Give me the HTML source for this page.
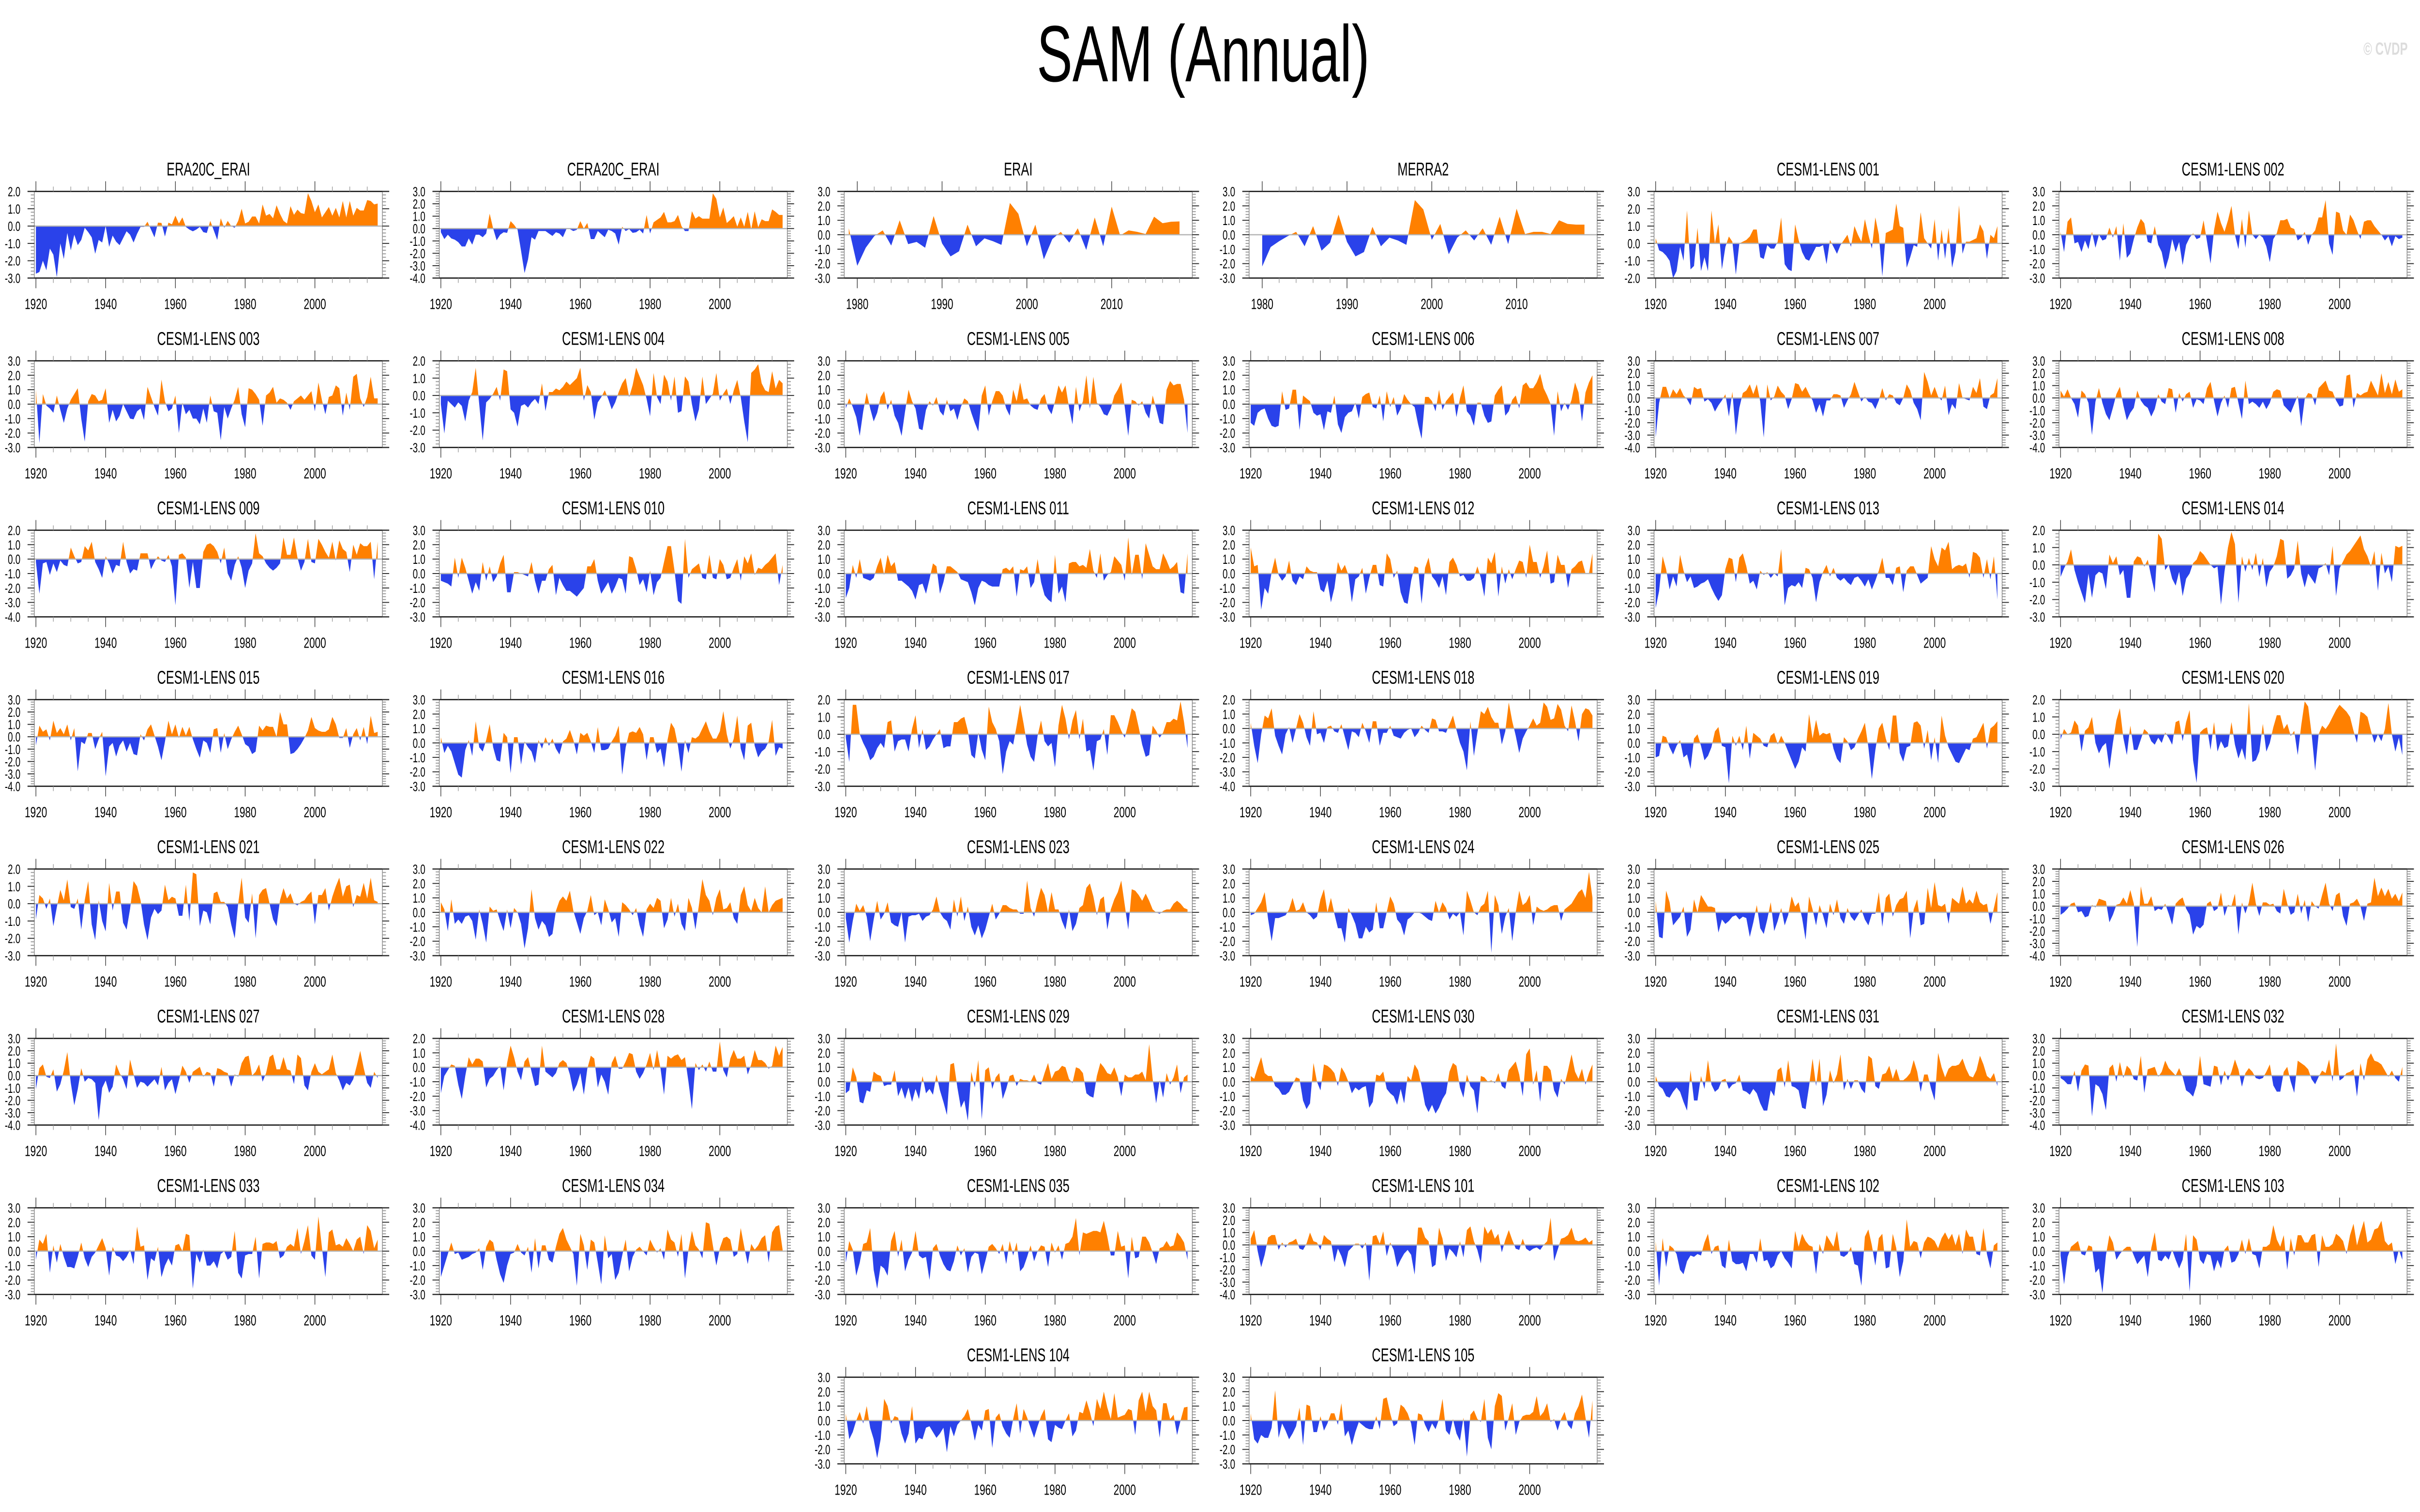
<!DOCTYPE html>
<html>
<head>
<meta charset="utf-8">
<style>
html,body{margin:0;padding:0;background:#fff;width:100%;height:100%;overflow:hidden;}
svg{display:block;position:fixed;left:0;top:0;width:100vw;height:100vh;}
text{font-family:"Liberation Sans",sans-serif;}
</style>
</head>
<body>
<svg id="chart" viewBox="0 0 7468 3124" preserveAspectRatio="none" xmlns="http://www.w3.org/2000/svg">
<rect x="0" y="0" width="7468" height="3124" fill="#fff"/>
<text x="3713" y="168" font-size="165" text-anchor="middle" fill="#000">SAM (Annual)</text>
<text x="7430" y="113" font-size="36" font-weight="bold" text-anchor="end" fill="#dcdcdc">© CVDP</text>
<g id="panels"></g>
</svg>
<script>
// ---- data (annual SAM index, one value per year) ----
const era20c = [-2.75,-2.65,-2.0,-2.55,-1.3,-1.65,-2.95,-1.0,-1.9,-0.4,
-1.4,-0.5,-1.1,-0.8,-0.1,-0.35,-0.65,-1.6,-0.8,-0.95,
0.0,-1.2,-0.55,-0.9,-1.1,-0.7,-0.3,-0.5,-0.95,-0.45,
-0.05,-0.05,0.25,-0.2,-0.65,0.2,0.18,-0.6,0.2,0.1,
0.6,0.15,0.5,-0.05,-0.2,-0.3,-0.2,-0.05,-0.35,-0.4,
0.3,-0.25,-0.8,0.45,-0.1,0.3,0.0,-0.1,0.3,1.0,
0.15,0.25,0.55,0.55,0.15,1.25,0.6,0.7,0.45,1.2,
0.7,0.3,0.15,1.15,0.65,0.95,0.75,0.7,1.9,1.45,
0.8,1.25,0.5,0.8,1.1,0.6,1.05,0.5,1.45,0.5,
1.45,0.6,1.05,0.9,0.9,1.5,1.45,1.25,1.3];
const cera20c = [-0.3,-0.85,-0.5,-0.8,-0.9,-1.1,-1.45,-1.45,-0.8,-1.3,
-0.5,-0.5,-0.7,-0.4,1.2,0.0,-0.95,-0.5,-0.3,-0.35,
0.6,0.3,-0.1,-1.8,-3.6,-2.5,-0.7,-0.9,-0.2,-0.2,
-0.2,-0.4,-0.6,-0.3,-0.4,-0.7,-0.05,-0.05,-0.2,-0.1,
0.6,0.0,0.45,-0.85,-0.85,-0.2,-0.45,-0.7,-0.1,-0.2,
-0.4,-1.3,0.15,-0.2,-0.05,-0.35,-0.3,-0.1,-0.4,1.1,
-0.4,0.5,0.7,0.9,1.35,0.5,0.5,0.6,1.1,0.2,
-0.2,-0.2,1.4,0.8,1.0,0.8,0.8,0.8,2.85,2.4,
0.9,1.7,0.45,0.7,1.0,0.15,0.9,0.15,1.35,-0.05,
1.4,0.1,0.75,0.6,0.6,1.55,1.35,1.1,1.1];
const erai = [0.45,-2.15,-0.9,-0.1,0.3,-0.75,1.0,-0.65,-0.5,-0.9,
1.3,-0.6,-1.5,-1.15,0.7,-0.8,-0.25,-0.45,-0.7,2.2,
1.45,-0.8,0.7,-1.7,-0.3,0.2,-0.55,0.45,-1.05,1.2,
-0.8,1.95,-0.05,0.3,0.2,0.05,1.25,0.8,0.9,0.92];
const merra2 = [-2.2,-0.85,-0.45,-0.1,0.2,-0.8,0.6,-1.1,-0.55,1.4,
-0.5,-1.5,-1.2,0.55,-0.8,-0.2,-0.4,-0.7,2.4,1.75,
-0.35,0.75,-1.35,-0.2,0.3,-0.4,0.45,-0.7,1.25,-0.65,
1.8,0.05,0.2,0.2,0.05,1.0,0.75,0.7,0.7];
const lens001 = [0.3,-0.4,-0.5,-0.7,-1.0,-2.0,-1.6,-0.2,-1.0,1.9,
-1.5,-1.3,0.9,-1.6,-0.8,-1.6,1.9,0.0,1.1,-1.5,
-0.2,0.4,0.1,-1.8,0.0,0.1,0.2,0.4,0.8,0.8,
-0.8,-0.9,-0.1,-0.3,-0.3,0.1,1.5,-1.2,-1.5,-1.6,
1.1,0.2,-0.5,-0.9,-1.0,-0.6,-0.2,-0.2,-0.1,-1.2,
0.2,-0.2,-0.6,-0.1,0.2,0.5,-0.2,1.0,0.5,0.1,
1.4,0.5,-0.3,1.5,0.5,-1.9,0.6,0.7,0.8,2.3,
1.0,0.9,-1.4,-0.8,-0.1,-0.2,1.8,0.3,0.0,-0.3,
1.4,-1.0,0.8,-0.9,0.9,-1.4,-0.5,2.2,-0.6,0.1,
0.1,0.2,0.3,1.1,0.7,-0.9,0.5,0.3,1.0];
const lens002 = [0.2,-1.2,0.9,1.2,-0.6,-0.5,-1.2,-0.4,-1.0,0.2,
-0.9,0.0,-0.4,-0.3,0.5,-0.2,0.6,-1.8,0.8,-1.6,
-1.3,-0.3,0.5,1.1,0.8,-0.5,-0.6,0.6,-0.7,-1.2,
-2.4,-1.6,-0.3,-1.2,-0.5,-2.1,-0.7,-0.2,0.1,-0.3,
-0.2,1.0,-0.5,-2.0,0.3,1.6,0.8,0.2,1.0,2.0,
0.0,-1.0,1.1,-0.9,1.7,0.0,-0.3,0.0,-0.2,-0.8,
-1.9,-0.3,0.1,1.0,1.0,1.1,0.5,0.4,-0.4,-0.2,
0.2,-0.7,0.0,0.3,1.2,1.2,2.4,-0.6,-1.4,1.6,
1.5,0.3,0.0,1.4,1.0,0.3,-0.3,0.9,1.0,1.0,
0.6,0.3,0.0,-0.4,-0.1,-0.8,-0.1,-0.3,-0.2];
const lens003 = [1.0,-2.7,0.7,-0.1,-0.3,-0.6,0.6,-0.4,-1.3,-0.3,
0.3,0.7,1.1,-1.0,-2.6,0.2,0.7,0.6,0.2,0.3,
1.1,-1.3,-0.4,-1.2,-0.8,0.0,-0.5,-1.0,-1.05,-0.5,
-0.3,-1.1,1.2,0.5,-0.2,-0.8,1.7,0.2,-0.5,-0.3,
0.6,-2.0,0.1,-0.7,-0.4,-1.0,-1.0,-1.4,-0.3,-1.3,
0.6,-0.5,-0.6,-2.5,-0.2,-1.0,-0.3,0.3,1.2,-0.7,
-1.6,1.1,1.0,0.7,0.3,-1.5,0.6,0.8,1.2,0.1,
0.4,0.3,0.1,-0.4,0.2,0.4,0.6,0.3,0.6,0.9,
-0.5,1.5,0.3,-0.7,0.5,0.6,1.3,1.1,-0.8,0.8,
-0.4,1.9,2.1,0.4,-0.2,0.5,1.9,0.4,0.4];
const lens004 = [-0.5,-2.2,-0.3,-0.5,-0.7,-0.4,-0.6,-1.5,-0.3,0.2,
1.6,-0.5,-2.6,-0.4,-0.2,0.1,0.5,-0.3,1.5,1.4,
-0.8,-1.0,-1.8,-0.6,-0.5,-0.7,-0.4,-0.2,-0.5,0.7,
-0.9,0.2,0.2,0.4,0.3,0.5,0.8,0.6,0.8,1.0,
1.6,-0.3,0.6,0.2,-1.4,-0.4,-0.1,0.3,-0.2,-0.8,
-0.4,0.2,0.7,1.0,-0.1,0.6,1.6,1.1,0.6,-0.2,
-1.2,1.3,-0.1,-0.5,1.2,0.8,-0.3,1.1,-1.0,-0.9,
1.1,0.8,-0.5,-1.5,-0.8,1.1,-0.5,-0.2,0.1,1.3,
-0.3,0.1,0.4,-0.5,0.3,0.9,-0.1,-1.5,-2.7,1.3,
1.5,1.8,0.7,0.3,0.2,1.4,0.4,0.9,0.7];
const lens005 = [-0.3,0.4,-0.2,-0.9,-2.2,-0.5,0.8,-0.3,-1.2,-0.6,
0.5,0.9,-0.4,0.3,-0.8,-1.3,-2.2,-0.5,1.0,0.2,
-0.3,-1.7,-1.8,-0.4,0.2,-0.1,0.5,-0.5,-0.8,0.3,
-0.5,-0.3,-1.1,-0.2,0.4,0.2,-0.6,-1.3,-1.9,0.6,
1.3,-0.8,0.2,0.9,0.9,0.6,-0.3,-0.8,1.0,0.2,
1.5,0.3,0.4,-0.1,-0.3,-0.4,0.4,0.7,-0.3,-0.7,
0.2,1.3,0.8,1.3,-0.2,-1.4,1.2,-0.5,0.2,2.0,
-0.3,1.9,0.1,-0.2,-0.7,-0.8,-0.3,0.6,1.0,1.5,
-0.2,-2.2,0.3,0.2,-0.1,0.2,-0.6,-1.0,0.6,-0.3,
-1.3,-1.4,1.0,1.6,1.3,1.4,1.4,0.3,-2.0];
const lens006 = [-1.3,-1.5,-0.6,-0.4,-0.3,-1.0,-1.5,-1.6,-1.5,0.9,
-0.4,-0.3,1.0,1.0,-1.8,0.6,0.4,0.2,-0.6,-0.8,
-0.7,-1.8,-0.5,-0.6,0.6,-1.4,-2.0,-0.9,-0.6,-0.5,
0.1,-1.0,0.5,0.7,0.8,-0.2,-0.3,0.6,-1.2,0.9,
-0.2,0.5,-0.8,-0.3,0.7,0.3,0.0,-0.2,-1.4,-2.4,
0.5,0.5,0.2,-0.5,1.0,-0.4,0.2,0.5,0.8,-0.9,
0.4,1.3,-0.5,-0.8,-1.5,0.1,0.1,-0.8,-1.3,-1.2,
0.6,1.0,1.3,-0.8,-0.5,0.3,0.6,-0.3,1.3,1.5,
1.1,1.1,1.5,2.1,1.1,0.6,0.0,-2.2,0.9,-0.5,
0.1,-0.4,0.3,1.5,0.8,-1.2,0.8,1.5,2.0];
const lens007 = [-3.2,-0.4,0.9,0.9,0.0,0.7,0.3,0.8,0.2,-0.1,
-0.6,0.9,0.7,0.8,-0.3,-0.1,-0.4,-1.1,-0.6,-0.2,
0.3,-1.5,0.5,-3.0,-0.8,0.4,0.6,1.1,0.3,1.1,
-0.3,-3.2,1.1,-0.2,0.1,1.0,0.5,0.2,-0.9,-0.1,
1.2,1.1,0.5,0.9,0.3,-0.2,-1.2,-0.5,-1.5,-0.2,
-0.2,0.3,0.3,0.2,-0.8,-0.2,0.3,1.3,0.5,-0.3,
0.1,-0.3,-0.4,-0.9,-0.2,0.8,-0.2,0.3,0.2,-0.4,
-0.6,0.0,1.1,0.6,-0.4,-0.9,-1.8,2.1,1.3,0.2,
0.9,0.1,-0.2,1.0,-1.4,-0.5,-0.9,1.2,0.0,-0.1,
-0.2,0.9,0.4,1.6,-0.7,-0.9,0.2,0.4,1.6];
const lens008 = [0.6,0.1,0.7,0.0,-0.5,-1.6,0.6,0.3,-0.4,-3.0,
-0.3,0.8,-0.4,-1.3,-1.8,-0.8,0.3,0.9,-0.6,-1.8,
-1.2,-0.8,0.6,-0.2,-0.6,-0.8,-1.5,-0.9,0.3,-0.3,
-0.5,0.8,0.7,-1.2,0.4,-0.3,0.3,0.5,-0.8,-0.1,
-0.2,-0.5,0.8,1.3,-0.2,-1.5,-0.4,0.2,-0.8,0.8,
0.9,-0.4,-1.7,1.4,-0.5,-0.3,-0.5,-0.8,-0.3,-0.9,
-0.4,0.5,0.7,0.6,-0.6,-0.9,-1.2,-0.5,0.2,-2.3,
-0.1,0.4,0.3,-0.6,0.8,1.1,1.4,0.6,0.5,-0.2,
-0.7,-0.6,1.8,1.9,-0.8,0.4,0.2,0.4,0.5,1.4,
0.8,0.2,2.0,0.4,1.3,0.3,1.5,0.5,0.7];
const lens009 = [-0.2,-2.4,-0.3,-0.2,-1.1,-0.3,-0.9,-0.1,-0.4,-0.5,
0.8,0.2,-0.3,-0.2,0.9,0.6,1.2,-0.2,-0.7,-1.3,
0.2,-0.3,-1.0,-0.4,-0.5,1.2,-0.2,-1.0,-0.7,-0.8,
0.4,0.4,0.4,-0.7,-0.2,0.2,-0.1,-0.2,0.3,-0.5,
-3.2,0.3,0.4,0.1,-2.0,-0.2,-2.0,-2.0,0.5,1.0,
1.1,0.9,0.5,-0.3,0.8,-1.0,-1.5,-0.4,0.2,-0.6,
-2.0,-0.8,-0.3,1.8,0.4,0.2,-0.3,-0.6,-0.8,-0.6,
-0.3,1.5,0.3,0.3,1.5,0.1,-0.8,-0.2,1.4,-0.2,
-0.3,1.4,1.0,0.5,0.1,1.2,-0.1,1.3,0.7,0.5,
-0.9,1.0,0.3,1.1,0.9,0.9,1.2,-1.4,1.2];
const lens010 = [-0.5,-0.6,-0.7,-0.9,1.1,-0.3,1.1,0.4,-0.5,-1.4,
-0.6,-1.2,0.8,-0.5,0.5,-0.6,-0.2,0.7,1.3,-1.3,
-1.3,0.1,0.1,0.0,-0.1,-0.2,0.8,-0.5,-1.4,-0.5,
-0.5,0.3,0.6,-1.5,-0.3,-0.8,-1.2,-1.2,-1.4,-1.6,
-1.3,-1.0,0.5,0.5,1.0,-0.5,-1.4,-1.0,-0.6,-1.4,
-0.9,-0.3,-0.4,-1.4,1.2,1.1,0.3,-0.8,-0.4,-1.3,
0.2,-1.5,-0.6,-0.3,0.8,1.9,1.9,0.2,-1.9,-2.1,
2.4,-0.3,0.3,0.5,0.7,-0.3,-0.4,1.3,-0.3,-0.4,
1.0,0.6,-0.4,-0.3,0.4,1.0,-0.5,1.2,0.7,1.4,
-0.1,0.4,0.3,0.6,0.8,1.1,1.4,-0.8,0.6];
const lens011 = [-1.7,-1.0,0.6,-0.3,1.0,-0.3,-0.4,-0.5,-0.3,0.5,
1.1,-0.1,1.3,0.5,0.8,-0.5,-0.5,-0.7,-0.9,-1.2,
-1.8,-0.8,-0.7,-1.4,-0.4,0.7,0.5,-1.4,-0.6,0.5,
0.5,0.3,0.1,-0.4,-0.5,-0.6,-1.3,-2.2,-1.0,-0.5,
-0.6,-0.8,-0.9,-0.9,-0.9,0.3,0.4,0.2,0.5,-1.6,
0.3,0.2,0.5,-1.0,-0.6,1.0,-0.6,-1.5,-1.8,-2.0,
1.3,-1.4,-0.9,-2.0,0.7,0.8,0.8,0.5,0.6,0.4,
1.7,0.2,-0.3,1.4,-0.5,-0.1,0.1,1.2,0.9,0.6,
-0.5,2.5,-0.1,1.3,1.3,-0.4,2.1,1.3,0.5,0.3,
0.3,1.4,0.9,0.3,0.5,0.8,-1.3,-1.4,1.4];
const lens012 = [1.8,0.5,0.6,-2.5,-1.0,-1.4,0.1,1.1,-0.1,-0.5,
-0.2,0.9,-0.5,-0.8,-0.2,-0.4,0.5,0.2,0.1,0.1,
-1.1,-1.3,-0.5,-2.0,-1.0,0.8,0.2,0.6,-0.1,-2.0,
-0.4,-0.2,0.4,-1.4,-0.3,0.6,0.6,-0.8,-0.9,1.4,
1.0,-0.3,0.2,-1.3,-2.0,-2.1,-0.5,0.5,0.4,-2.1,
0.4,1.1,-0.2,-0.5,-1.0,-0.2,-1.5,0.8,1.1,0.6,
-0.2,-0.1,-0.5,-0.5,-0.3,0.5,-0.3,-1.6,1.1,0.7,
1.5,-1.6,0.5,-0.7,0.3,-0.4,0.3,0.9,0.8,-0.3,
2.0,0.8,0.8,-0.3,0.5,1.6,-0.7,-0.6,1.3,0.6,
0.6,-1.0,0.3,0.5,0.8,0.9,0.0,0.0,1.4];
const lens013 = [-2.4,-1.2,1.2,0.3,-1.1,-0.2,-0.9,1.3,0.2,-0.6,
-0.2,-1.0,-0.9,-0.7,-0.6,-0.4,-1.0,-1.5,-1.9,-1.5,
0.3,1.1,1.0,-0.6,1.1,1.4,0.5,-0.7,-0.5,-1.1,
0.2,-0.1,0.1,-0.3,0.0,-0.2,1.7,-2.2,-1.0,-0.8,
-0.9,-0.6,-1.0,0.4,0.3,-0.3,-2.0,-0.6,0.1,0.6,
-0.2,0.4,-0.3,-0.5,-0.3,-0.6,-0.8,-0.3,-0.2,-0.5,
-0.9,-0.4,-1.1,-0.5,0.2,1.1,-0.3,-0.3,-0.8,0.4,
0.5,-1.3,0.2,0.5,0.5,-0.1,-0.7,-0.5,-0.3,1.9,
1.0,0.5,1.8,1.6,2.2,0.3,0.5,0.6,0.5,0.7,
-0.3,1.5,1.4,1.1,-0.3,1.0,-0.4,1.2,-1.8];
const lens014 = [-0.7,-0.2,0.2,0.9,-0.3,-1.0,-1.6,-2.2,-0.5,-1.9,
-0.6,-0.4,-0.5,-1.4,0.6,0.1,0.5,-0.6,-0.3,-1.9,
-1.9,0.2,0.5,0.4,-0.1,0.3,-0.7,-1.6,1.8,1.5,
-0.3,0.0,-0.8,-1.2,-0.4,-1.8,-0.8,-0.5,0.1,0.3,
0.8,0.6,0.3,0.0,-0.2,-0.1,-2.3,-0.4,1.0,1.9,
1.2,-2.2,0.5,-0.4,0.4,-0.3,0.7,-0.7,0.4,-1.3,
-0.4,-0.1,0.5,1.5,1.4,-0.8,-0.6,-0.2,1.4,-0.5,
-1.3,-0.5,-0.8,-1.1,-0.2,-0.1,0.1,-0.6,1.1,-1.8,
-0.2,0.2,0.6,0.8,1.1,1.4,1.7,0.9,0.5,-0.1,
0.8,-1.5,0.7,-0.5,-0.1,-1.0,1.1,1.0,1.1];
const lens015 = [-0.7,0.9,0.4,0.6,-0.3,1.3,0.3,0.7,0.2,1.0,
-0.3,0.7,-2.8,-0.4,-0.6,0.3,0.3,-1.0,-0.2,0.4,
-3.2,-0.8,-0.5,-1.6,-0.7,-0.3,-1.2,-0.5,-1.4,-1.5,
0.2,-0.3,0.6,1.0,0.1,-0.8,-1.9,-0.4,1.3,0.2,
1.0,-0.1,0.8,0.1,0.8,-0.2,-1.0,-1.7,-0.3,-0.5,
-1.3,0.6,0.7,-1.3,0.3,-1.0,-0.2,0.4,0.9,0.2,
-0.6,-0.8,-1.4,-1.2,0.9,0.5,0.9,0.8,0.8,0.0,
2.0,1.0,1.0,-1.4,-1.3,-1.0,-0.6,-0.1,0.5,1.6,
0.7,0.5,0.4,0.4,0.6,1.6,1.0,-0.1,-0.1,0.7,
-0.9,0.2,0.7,-0.3,0.8,-0.6,1.7,0.3,0.4];
const lens016 = [0.4,-0.7,-0.2,-0.6,-1.4,-2.2,-2.4,-0.5,0.2,-0.9,
1.5,-0.3,-0.6,0.2,1.3,-0.3,-1.2,-1.3,0.7,0.4,
-2.1,0.4,0.4,-1.5,0.1,-0.3,-0.6,-1.4,0.2,-0.4,
0.4,-0.2,0.3,-0.4,-0.8,0.1,0.3,0.9,0.2,-0.8,
0.7,0.5,0.7,0.1,-0.7,1.1,-0.5,-0.5,-0.4,0.1,
0.5,1.2,-2.2,-0.3,0.7,0.8,0.7,1.1,0.6,-1.2,
0.4,0.4,-0.7,-0.4,-1.7,0.2,1.4,1.0,-0.2,-2.0,
0.2,-0.7,0.4,0.3,0.5,1.0,1.5,0.8,0.3,0.3,
0.8,2.2,0.6,-0.4,0.3,1.9,-0.4,-1.2,1.2,1.4,
-0.2,-1.0,-0.6,-0.4,0.1,1.6,-0.9,-0.3,-0.4];
const lens017 = [-0.2,-1.6,1.7,1.7,0.0,-0.5,-0.9,-1.5,-1.3,-0.8,
-0.5,-0.8,0.7,0.8,-1.0,-0.4,-0.3,-0.3,-1.0,0.3,
1.1,-0.8,0.3,-0.9,-0.7,-0.3,0.0,0.3,-0.8,-0.7,
-0.7,0.7,0.7,0.9,1.0,0.2,-1.2,-1.4,0.1,-0.9,
-1.5,1.6,0.7,0.3,-0.4,-2.3,-1.0,-0.4,-0.6,0.5,
1.7,0.6,-0.6,-1.3,-1.6,-0.1,0.8,-0.4,-0.7,-0.5,
-1.9,0.5,1.7,0.9,-0.3,0.8,1.4,-0.3,0.9,-1.0,
-0.9,-2.1,-0.4,-0.3,0.3,-1.2,1.1,1.1,0.7,0.2,
-0.2,0.6,1.5,1.3,0.4,-0.6,-1.3,-1.2,0.5,0.2,
-0.2,0.1,0.7,0.7,0.9,0.8,1.9,0.7,-0.8];
const lens018 = [0.4,-1.2,-2.4,-0.4,0.9,0.7,1.4,-0.5,-1.2,-1.8,
-0.4,0.1,-1.0,0.0,1.0,0.4,-0.6,-1.2,1.2,-0.4,
-0.3,-1.0,0.1,0.2,-0.2,-0.3,0.3,-0.6,-1.5,-0.2,
-0.3,-0.6,0.4,-0.2,-1.0,0.5,0.5,-1.2,-0.3,-0.3,
0.2,-0.5,-0.6,-0.7,-0.3,-0.1,0.0,-0.6,-0.3,0.2,
-0.1,-0.3,0.7,0.6,-0.2,-0.2,-0.3,0.3,0.9,-0.1,
-1.0,-1.6,-2.9,0.5,-1.9,-0.3,1.2,1.0,1.5,0.8,
0.4,0.4,-1.1,-0.2,1.8,0.5,-0.5,-1.7,-0.7,-0.2,
0.2,0.7,0.2,0.4,1.8,1.5,0.6,0.7,1.7,1.3,
0.2,-0.2,1.6,0.5,-0.9,1.0,1.4,1.3,0.9];
const lens019 = [-1.0,-0.9,0.5,0.4,-0.3,-0.8,-0.2,0.2,-1.0,-0.8,
-1.8,0.3,0.6,-0.2,-1.2,-0.9,-0.3,0.8,1.1,-0.2,
-0.3,-2.8,0.5,-0.2,0.5,-0.5,1.2,-1.1,0.7,0.5,
0.3,-0.2,-0.3,0.5,0.7,-0.1,0.5,0.0,-0.6,-1.2,
-1.8,-1.3,-0.3,-0.6,2.0,0.3,1.6,0.5,0.7,0.6,
0.7,-0.4,-1.1,-1.4,0.4,0.1,-0.5,-0.3,0.3,0.8,
1.4,-0.3,-2.5,-0.5,1.0,1.4,0.3,-0.5,1.9,1.9,
-0.7,-1.3,-0.3,-0.2,1.4,1.5,1.2,-0.4,0.9,-1.2,
0.4,-1.4,1.9,0.5,-0.3,-0.8,-1.3,-1.4,-0.9,-0.4,
-0.5,0.3,0.4,0.9,1.4,-0.4,1.0,1.2,1.5];
const lens020 = [-0.3,0.3,0.0,0.1,0.8,0.5,-1.0,0.2,0.4,1.0,
-0.5,-1.1,-0.7,-0.5,-2.0,-0.5,0.8,1.5,-0.2,-1.2,
0.5,-0.9,-0.9,-0.3,0.3,0.1,-0.4,-0.6,-0.2,-0.5,
0.1,-0.2,-0.6,0.7,0.8,-0.4,0.7,1.4,-1.5,-2.8,
0.1,0.3,0.4,-0.9,0.7,-1.0,-0.4,-0.8,-0.7,0.7,
-0.6,-1.4,-0.8,-1.5,1.8,-1.6,-1.5,-1.0,0.6,-1.0,
-0.5,0.4,1.1,1.1,0.3,0.6,-0.1,0.2,-1.2,0.5,
1.9,1.6,0.0,-2.1,0.0,0.5,0.3,0.6,1.0,1.4,
1.7,1.5,1.3,1.0,0.2,-0.5,1.3,1.2,1.0,0.2,
-0.5,0.0,-0.4,0.3,1.8,0.0,-1.0,-0.2,-1.2];
const lens021 = [-0.9,0.5,0.3,-0.3,0.3,-1.3,-0.2,0.8,0.2,1.4,
-0.2,-0.3,0.3,-1.5,0.2,1.3,-1.2,-2.1,0.2,-1.0,
-1.6,1.2,-0.4,0.7,0.7,-1.1,-1.5,-0.3,1.3,1.0,
0.2,-1.2,-2.1,-0.8,-0.3,-0.6,-0.4,1.1,0.2,0.4,
0.3,-0.7,-0.7,1.1,-1.0,1.8,1.7,-1.3,-0.4,-0.5,
-1.2,0.6,0.7,0.1,0.1,-0.2,-1.2,-2.0,0.0,1.5,
-0.8,-1.1,0.6,-2.0,0.5,0.8,0.9,0.0,-0.9,-1.3,
0.2,0.9,0.3,0.6,0.0,-0.1,0.1,0.2,0.5,0.7,
-1.2,0.5,0.5,0.9,-0.4,0.4,1.0,1.5,0.4,1.0,
1.1,-0.2,0.5,0.4,1.2,0.3,1.5,0.2,0.1];
const lens022 = [0.7,0.2,-1.3,0.9,-0.8,-0.5,-0.8,-0.3,-0.2,-0.6,
-1.9,0.2,-0.8,-2.1,0.4,0.1,0.2,-0.6,-1.3,0.2,
-1.1,0.3,0.0,-0.8,-2.5,-1.1,1.6,-0.4,-1.2,-0.6,
-0.9,-1.7,-1.5,0.1,0.8,1.1,0.8,1.5,0.1,-0.7,
-1.5,-0.4,0.1,1.2,-0.2,0.0,-0.9,0.9,0.2,-0.7,
-0.4,-1.7,0.7,0.5,0.2,-0.2,0.3,-0.9,-1.7,0.2,
0.6,0.3,1.0,0.8,-1.1,-0.5,1.0,-0.3,0.6,-0.8,
-1.3,1.0,0.3,-1.2,0.5,2.3,1.2,0.8,-0.2,1.0,
1.6,0.2,0.3,0.7,-0.4,-0.8,1.2,1.8,0.5,0.1,
1.0,0.3,0.0,1.8,0.0,0.5,0.8,0.9,1.0];
const lens023 = [-0.4,-2.1,-0.6,0.6,0.1,0.5,-0.3,-2.0,-0.5,0.8,
-0.5,-0.1,0.7,-0.7,-0.9,-1.0,0.0,-2.1,-0.3,-0.2,
-0.2,-0.1,-0.6,-0.3,-0.2,0.2,1.1,0.0,-0.4,-0.6,
-1.2,0.9,-0.3,1.1,-0.6,0.4,-1.0,-1.6,-0.9,-1.8,
-1.2,-0.3,0.6,-0.5,-0.1,0.5,0.5,0.3,0.2,0.2,
-0.1,-0.1,2.2,0.3,-0.3,0.8,1.7,1.2,0.0,1.4,
0.2,0.2,-0.6,-1.2,0.2,-1.3,-0.8,0.3,0.5,1.7,
2.0,1.1,-0.2,0.9,1.1,-1.2,0.2,0.9,1.4,2.2,
0.5,-1.2,1.6,1.5,1.2,0.8,1.3,0.8,0.2,0.0,
-0.1,0.1,0.2,0.2,0.6,0.8,0.6,0.3,0.2];
const lens024 = [-0.2,-0.1,0.3,0.7,1.4,-0.5,-2.0,-0.4,-0.4,-0.3,
-0.2,0.2,1.0,0.1,0.2,0.7,0.0,-0.2,-0.5,-0.3,
0.9,1.6,0.0,1.0,-0.1,-1.1,-1.1,-2.1,0.3,-0.2,
-0.8,-1.8,-1.8,-1.0,-1.4,-1.2,0.7,-1.1,-1.1,0.0,
1.1,0.6,-0.5,-0.8,-1.6,-0.5,-0.3,0.0,0.0,-0.1,
-0.3,-0.5,-0.6,0.8,0.0,0.7,0.3,-0.5,-0.1,-0.3,
0.0,-1.6,1.5,0.8,0.0,-0.2,0.4,0.6,1.5,-2.8,
1.2,0.5,-1.5,-0.3,0.3,-2.0,0.0,1.5,0.5,0.7,
1.2,-0.9,0.4,0.2,0.1,0.2,0.4,0.5,0.5,-0.6,
0.2,0.4,0.6,1.0,1.4,1.6,1.0,2.8,1.0];
const lens025 = [0.8,-1.7,-1.8,1.5,0.7,-0.9,-0.6,-0.3,0.4,-1.7,
-1.2,0.9,0.0,1.2,0.8,0.4,0.4,0.3,-1.4,-0.5,
-0.8,-0.6,-0.3,-0.2,-0.5,-0.3,-0.4,-1.7,-0.7,0.5,
-1.1,-1.5,-0.5,0.7,-1.3,-0.6,0.3,-0.9,-0.2,1.1,
0.4,0.7,-0.4,-1.9,1.1,0.2,-0.9,0.5,-0.2,-1.1,
0.6,-0.2,0.9,-0.4,-0.8,0.3,-0.3,-0.6,-0.2,0.2,
-0.5,-0.9,-0.1,-0.1,1.4,-1.0,1.0,1.3,-0.3,0.5,
0.9,1.0,1.5,-1.8,0.2,0.9,-0.9,-0.8,1.7,0.3,
2.1,0.5,0.4,0.6,-0.8,1.0,0.8,0.6,1.8,0.6,
0.9,0.6,1.5,0.7,0.5,0.6,-0.8,0.3,1.4];
const lens026 = [-0.7,-0.5,-0.2,0.2,0.3,-0.5,-0.4,-0.9,-0.8,0.1,
-0.1,0.6,0.5,0.4,-1.3,-0.7,0.1,0.2,0.7,0.2,
1.3,0.2,-3.3,1.6,0.2,0.2,0.8,-0.4,-0.2,-0.3,
0.2,-0.6,-1.5,0.2,0.5,0.7,-0.2,-0.7,-2.3,-1.6,
-1.8,-1.5,0.2,0.4,-0.4,-0.2,1.1,-0.8,0.1,0.0,
1.0,-2.3,0.3,-0.6,0.3,1.9,0.2,-0.8,0.3,0.3,
0.1,0.2,-0.4,-0.6,1.4,0.2,-0.7,-0.5,1.0,-0.6,
0.5,-1.3,0.4,0.0,-0.2,0.9,1.9,0.2,-0.4,0.9,
1.1,-0.8,-1.6,0.2,0.3,0.6,0.0,-1.2,0.2,0.3,
2.3,0.8,1.5,0.8,1.4,0.6,1.0,0.4,1.1];
const lens027 = [-1.1,0.6,0.9,-0.1,-0.2,0.5,-1.3,-0.7,0.4,1.9,
-0.6,-2.4,-1.1,0.6,-0.5,-0.2,-0.3,-0.6,-3.6,-1.0,
-0.4,-1.4,-0.9,0.9,0.2,-0.3,-1.1,1.3,0.1,-1.0,
-0.5,-0.6,-0.9,-0.6,-0.3,-0.8,0.7,-1.2,-0.6,-0.3,
-1.5,-0.4,0.8,0.3,-0.6,0.3,0.5,0.7,-0.1,0.3,
0.2,-0.9,0.6,0.5,0.3,0.2,-0.9,0.1,-0.1,1.0,
1.5,1.6,0.0,0.3,0.9,-0.5,0.2,1.5,1.7,0.5,
0.5,1.5,0.5,0.4,-0.7,1.7,1.4,-0.8,-1.2,0.3,
1.0,0.3,0.1,0.3,0.5,1.7,0.2,-0.4,-1.2,-0.6,
-0.8,-0.3,0.8,2.0,0.6,-0.6,-1.0,0.3,-0.2];
const lens028 = [-1.8,-0.6,-0.2,0.2,0.1,-1.2,-2.2,-0.6,0.7,0.2,
0.6,0.6,0.4,-1.4,-0.8,-0.6,-0.2,0.1,-1.6,0.3,
1.5,0.7,-0.3,-0.9,0.4,0.7,-0.3,-1.3,-1.2,1.5,
-0.3,-0.5,-0.7,-0.4,0.3,0.5,0.3,-0.5,-1.7,-1.2,
-0.4,-1.9,-0.1,0.8,0.6,-1.4,-0.5,-1.0,-1.9,0.3,
0.8,-0.1,-0.1,0.4,1.0,0.9,-0.3,-0.8,-0.4,0.2,
1.0,-0.2,1.2,-0.1,-1.9,0.8,0.6,0.8,0.9,0.5,
0.7,-1.0,-2.9,0.3,-0.2,0.2,-0.3,0.4,-0.3,-0.3,
1.8,-0.2,-0.7,0.6,1.2,0.6,0.6,0.8,-0.5,0.2,
1.2,0.5,0.5,0.3,-0.1,0.1,1.5,0.8,1.4];
const lens029 = [-0.8,-0.6,1.0,0.3,-1.4,-1.5,-0.6,-0.7,0.7,0.5,
0.4,-0.3,-0.2,-0.2,0.8,-1.0,-0.4,-1.2,-0.4,-1.4,
-0.5,-1.2,0.4,-0.8,-0.5,-0.9,0.5,-0.6,-1.4,-2.3,
1.2,1.3,-0.4,-1.8,-1.3,-2.7,0.7,-0.4,1.5,-2.6,
0.8,1.0,-0.5,0.3,0.6,-1.2,-0.5,0.4,0.5,-0.3,
0.2,0.1,0.1,0.0,0.5,-0.1,-0.2,0.6,1.3,0.2,
0.7,0.8,1.1,1.0,0.2,-0.1,1.0,0.9,0.6,-0.8,
-1.0,-1.1,0.4,1.3,1.0,0.6,0.5,1.0,0.3,-1.0,
0.5,0.3,0.3,0.5,0.5,0.7,0.1,2.6,0.2,-1.5,
0.1,-1.1,0.6,-0.2,0.3,1.2,-0.8,0.3,0.5];
const lens030 = [0.4,0.2,1.0,1.7,0.6,0.4,0.4,-0.3,-0.5,-0.9,
-0.9,-0.7,-0.2,0.3,0.2,-1.3,-1.9,-1.5,1.3,0.0,
-0.6,1.2,1.1,0.9,0.6,-0.3,1.0,0.6,0.0,-0.8,
-0.4,-0.6,-0.4,-0.3,-1.8,-1.4,0.5,0.4,0.7,-0.5,
-0.8,-1.0,-1.6,-0.5,-1.5,0.4,0.1,1.2,0.8,-0.3,
-1.6,-2.1,-1.6,-2.2,-1.8,-1.2,-0.8,0.7,1.3,1.1,
-0.4,-1.1,0.5,-0.3,-0.6,-2.2,0.4,0.3,0.0,0.1,
-0.1,0.6,-0.3,-0.5,0.8,1.1,1.4,0.5,-1.0,1.9,
2.3,-0.2,0.8,-1.4,1.1,1.1,0.8,-0.6,-1.1,0.2,
-0.2,0.8,1.9,0.7,0.2,0.9,-0.2,0.6,1.2];
const lens031 = [0.4,-0.3,-0.5,-1.0,-1.1,-0.7,-0.4,-0.7,-1.4,-2.0,
0.8,-1.3,-1.3,0.4,-0.5,1.5,-0.2,-0.7,-0.5,0.1,
0.2,-0.5,-0.2,-0.1,0.5,-0.6,-0.7,-0.9,-0.5,-0.8,
-1.5,-2.0,-2.0,-0.6,-1.0,0.8,1.0,-0.4,1.5,-0.3,
-0.4,-0.6,-1.8,-1.9,-0.3,1.6,-0.3,1.6,-1.7,-0.9,
0.8,-0.1,0.5,1.9,-0.6,0.2,-0.5,0.1,0.1,-0.5,
-0.8,1.8,1.6,-0.3,-0.5,0.5,0.6,1.1,0.2,0.9,
0.1,0.1,0.3,0.6,1.5,0.7,-0.7,0.5,0.5,-0.5,
-1.3,2.0,1.0,0.3,0.9,1.1,1.1,1.2,1.6,0.9,
0.4,0.3,0.8,1.8,1.2,0.4,0.2,0.6,-0.3];
const lens032 = [-0.2,-0.4,-0.7,-0.7,0.4,-1.3,0.4,0.9,0.8,-3.3,
-0.7,-0.9,-1.5,-2.8,0.6,0.9,-0.5,1.1,-0.2,0.8,
0.5,-0.3,-0.4,1.6,-1.4,0.5,0.6,0.7,-0.1,0.3,
1.2,0.6,0.3,0.0,0.6,-0.1,-1.2,-1.4,-1.7,-0.8,
1.6,-0.7,-0.8,-0.9,0.8,0.7,-0.8,0.4,-0.4,0.3,
1.3,0.5,-0.9,0.2,0.6,0.3,-0.2,-0.3,-0.2,0.3,
0.9,-0.8,-1.3,-1.3,0.3,0.7,-0.5,-1.4,1.2,1.0,
0.8,0.5,-0.3,-0.7,-0.1,0.4,0.2,1.3,-0.5,2.6,
-0.4,-0.2,0.2,0.3,0.5,-1.7,1.0,-0.4,1.3,1.8,
1.2,1.1,0.9,0.4,-0.1,0.4,-0.2,-0.5,0.7];
const lens033 = [-0.6,0.8,0.5,1.2,-1.5,0.4,-0.8,0.5,-0.4,-1.1,
-1.1,-1.2,-0.4,0.6,-0.5,-1.1,-0.4,-0.1,0.4,0.9,
0.2,-1.7,0.3,-0.3,-0.4,-0.7,-0.4,0.1,-0.9,1.7,
0.3,0.4,-2.0,-0.5,-0.7,0.3,-1.8,-1.0,-0.5,-1.0,
0.4,0.5,0.0,1.2,1.1,-2.6,-0.2,-0.8,0.1,-1.0,
-1.0,-0.7,-1.2,-0.2,0.0,-0.6,-0.4,1.4,-1.5,-1.9,
-0.3,-0.2,-0.2,1.0,-1.9,0.5,0.6,0.6,0.5,0.7,
-0.5,-0.3,0.3,0.5,0.3,1.6,-0.2,0.7,1.8,-0.3,
-0.6,2.4,0.3,-1.8,1.3,1.5,0.4,0.5,0.3,0.9,
0.5,0.0,0.8,1.0,-0.2,1.8,1.4,0.2,0.8];
const lens034 = [-1.8,-1.0,-0.2,0.6,-0.2,-0.1,-0.6,-0.5,-0.4,-0.2,
-0.1,0.2,-1.3,0.3,0.8,0.6,-0.6,-1.6,-2.2,-1.0,
-0.2,-0.1,0.5,-0.1,-0.3,0.3,-1.5,0.9,-1.2,0.4,
0.4,-0.6,-0.8,0.3,1.2,1.6,0.8,0.3,-0.2,-2.4,
1.2,0.4,-1.3,0.8,0.6,-0.8,-2.3,1.1,-0.5,-0.2,
-2.0,-1.5,-0.3,0.8,-1.4,-0.4,0.1,0.3,0.0,-0.3,
0.8,0.3,-0.1,0.2,-0.6,1.5,0.8,0.6,-0.4,1.2,
-1.9,0.1,1.4,0.4,0.1,-0.5,2.0,1.9,0.4,-1.0,
0.2,0.9,1.0,0.8,-0.4,-0.2,1.6,0.3,-0.9,0.5,
0.1,0.4,0.9,1.1,-0.8,1.3,1.7,1.8,0.1];
const lens035 = [-0.8,0.7,0.1,-1.7,-0.8,0.5,0.6,1.6,-1.3,-2.6,
-1.0,-1.2,-1.7,0.7,1.4,-0.4,0.8,-1.4,-0.6,-0.1,
1.4,-0.3,-0.5,-0.4,-2.0,0.2,0.5,-0.3,-0.9,-1.3,
-1.4,-0.7,0.4,-0.3,0.2,-1.5,-0.4,-0.1,-0.2,-1.6,
-0.7,0.3,0.5,0.2,-0.2,0.5,-0.9,0.7,-0.3,0.6,
-1.4,-1.1,-0.4,0.4,-0.7,0.0,0.4,0.3,-1.1,0.6,
-0.1,0.4,-0.6,0.5,0.6,1.0,2.3,-0.3,1.3,1.2,
1.3,1.4,1.4,1.3,2.1,1.0,-0.3,-0.3,1.4,0.3,
0.4,-1.9,1.0,-0.5,-0.4,1.0,1.0,0.6,-0.1,-0.9,
0.2,0.3,0.7,0.3,0.4,1.3,1.0,0.6,-0.6];
const lens101 = [0.5,1.2,-0.5,-1.8,-0.8,0.6,0.8,0.8,-0.4,0.2,
-0.2,0.2,0.3,0.5,-0.3,-0.4,0.1,1.0,0.3,0.2,
-0.4,0.8,0.5,0.3,-1.4,-0.3,-0.9,-1.8,-0.5,-0.2,
0.1,0.1,-0.3,0.2,-2.9,0.7,0.8,0.1,1.1,-0.9,
0.2,-0.4,-1.8,-1.2,-0.7,-0.4,-0.8,-2.4,1.4,1.4,
0.6,0.3,-1.8,-1.6,1.4,0.5,-1.3,-0.3,-0.6,-1.0,
0.3,-1.0,1.2,1.5,0.3,-0.4,-1.5,1.5,0.9,1.3,
0.5,0.9,-0.6,0.4,1.2,0.4,-0.3,-0.4,0.5,-0.3,
-0.5,-0.3,-0.2,-0.4,0.0,0.3,2.2,-1.3,-0.4,0.5,
0.6,0.8,1.4,0.4,0.3,0.4,0.6,0.2,0.4];
const lens102 = [0.7,-2.4,0.9,-1.1,0.4,0.2,-0.2,-1.3,-1.6,-0.7,
-0.3,-0.4,-0.2,-0.3,0.6,1.2,-0.2,0.3,0.4,-1.0,
-1.2,0.8,-0.7,-0.9,-0.9,-0.8,-1.4,-0.2,-0.2,-0.8,
0.9,-0.7,-0.6,-1.2,-1.0,-0.3,0.0,-0.5,-0.8,-1.2,
1.4,0.3,1.2,0.7,0.4,0.3,-1.6,0.5,-0.2,1.1,
0.7,0.3,1.4,-0.3,-0.4,-0.2,0.3,-0.9,-1.0,-2.4,
1.0,1.5,0.4,-1.0,0.9,1.2,-1.2,-1.1,1.2,0.2,
-1.8,-0.7,2.2,0.3,0.7,0.6,-0.5,0.6,1.0,0.9,
0.7,0.2,0.9,1.3,0.8,1.2,0.4,1.2,-0.2,1.5,
1.0,1.0,-0.2,-0.3,1.6,-0.2,-1.2,0.4,0.6];
const lens103 = [-0.3,-2.3,-0.4,0.3,0.5,0.7,-0.2,-0.3,0.4,0.3,
-1.5,-1.2,-2.9,-0.3,1.1,0.6,-0.6,-0.2,0.1,0.3,
0.3,-0.3,-0.9,-0.6,-0.3,-1.8,0.2,1.3,-0.6,-0.7,
-0.3,-0.6,0.1,-0.6,-1.2,-0.6,1.2,-2.8,1.1,0.8,
-0.6,-0.9,-0.2,-0.3,-1.4,-0.6,-1.2,0.1,0.4,-0.8,
-0.7,-0.2,0.8,-0.2,0.9,-0.2,-0.3,-1.2,0.3,0.3,
0.5,1.8,0.8,0.3,1.1,-1.3,0.9,-0.3,1.1,1.1,
0.6,0.6,1.1,1.2,-1.1,1.1,0.3,0.3,0.5,1.2,
1.0,0.7,-0.2,1.1,1.9,0.4,1.3,2.1,0.6,0.8,
1.5,1.6,2.1,0.7,0.4,0.6,-0.9,0.1,-0.6];
const lens104 = [0.5,-1.3,-0.8,0.0,0.6,-0.2,1.0,-0.5,-1.3,-2.6,
-1.3,1.5,1.0,-0.2,0.3,0.2,-0.9,-1.6,-0.9,1.0,
-1.6,-1.2,-1.3,-0.5,-0.4,-0.8,-1.2,-0.9,-0.5,-2.2,
-0.4,-1.1,-0.3,0.0,0.3,0.8,-0.2,-1.4,-0.3,-0.7,
0.7,0.8,-1.9,0.2,0.5,-0.4,-0.9,-1.2,0.1,1.2,
-0.9,0.8,0.2,-0.5,-1.2,-0.4,0.3,0.8,-1.3,-1.5,
-0.3,-0.5,-0.6,0.0,0.5,-1.1,-0.7,0.6,0.5,1.4,
0.6,-0.4,1.5,0.8,2.0,0.9,0.1,1.9,0.2,0.3,
0.4,0.8,0.7,-1.0,1.4,2.0,0.6,2.0,1.0,0.7,
-1.2,1.2,1.2,0.1,0.4,-1.0,0.0,0.9,0.95];
const lens105 = [0.5,-1.3,-1.6,-1.0,-1.2,-1.2,-0.5,2.1,-1.2,-0.2,
-0.7,-1.3,-0.9,-0.4,0.9,-1.7,1.1,1.0,-0.8,-0.8,
0.3,-0.7,-0.2,0.5,0.5,-0.3,1.2,-1.1,-0.7,-1.7,
-0.8,-0.1,-0.3,-0.5,-0.6,-0.6,0.3,-0.6,1.5,1.6,
0.5,-0.4,-0.2,1.1,0.9,0.5,-0.2,-1.7,0.5,0.4,
-0.3,-0.8,-0.2,-0.6,0.1,1.5,-0.7,-1.0,0.1,-0.9,
-1.4,0.2,-2.5,0.4,0.7,0.1,-0.1,1.5,-1.2,-2.0,
1.0,1.9,1.7,-0.7,0.2,1.2,-1.0,-0.1,0.3,0.4,
0.4,0.6,1.7,0.3,0.6,1.2,-0.1,0.1,-0.7,0.1,
0.6,-0.3,-0.6,0.5,1.0,1.8,0.2,-1.2,1.4];

// ---- panel metadata ----
const panelTitles = ["ERA20C_ERAI","CERA20C_ERAI","ERAI","MERRA2","CESM1-LENS 001","CESM1-LENS 002",
"CESM1-LENS 003","CESM1-LENS 004","CESM1-LENS 005","CESM1-LENS 006","CESM1-LENS 007","CESM1-LENS 008",
"CESM1-LENS 009","CESM1-LENS 010","CESM1-LENS 011","CESM1-LENS 012","CESM1-LENS 013","CESM1-LENS 014",
"CESM1-LENS 015","CESM1-LENS 016","CESM1-LENS 017","CESM1-LENS 018","CESM1-LENS 019","CESM1-LENS 020",
"CESM1-LENS 021","CESM1-LENS 022","CESM1-LENS 023","CESM1-LENS 024","CESM1-LENS 025","CESM1-LENS 026",
"CESM1-LENS 027","CESM1-LENS 028","CESM1-LENS 029","CESM1-LENS 030","CESM1-LENS 031","CESM1-LENS 032",
"CESM1-LENS 033","CESM1-LENS 034","CESM1-LENS 035","CESM1-LENS 101","CESM1-LENS 102","CESM1-LENS 103",
"CESM1-LENS 104","CESM1-LENS 105"];
const panelSeries = [era20c,cera20c,erai,merra2,lens001,lens002,
lens003,lens004,lens005,lens006,lens007,lens008,
lens009,lens010,lens011,lens012,lens013,lens014,
lens015,lens016,lens017,lens018,lens019,lens020,
lens021,lens022,lens023,lens024,lens025,lens026,
lens027,lens028,lens029,lens030,lens031,lens032,
lens033,lens034,lens035,lens101,lens102,lens103,
lens104,lens105];
const startYears = [1920,1920,1979,1980,1920,1920,1920,1920,1920,1920,1920,1920,1920,1920,1920,1920,1920,1920,1920,1920,1920,1920,1920,1920,1920,1920,1920,1920,1920,1920,1920,1920,1920,1920,1920,1920,1920,1920,1920,1920,1920,1920,1920,1920];
const yMaxes = [2,3,3,3,3,3, 3,2,3,3,3,3, 2,3,3,3,3,2, 3,3,2,2,3,2, 2,3,3,3,3,3, 3,2,3,3,3,3, 3,3,3,3,3,3, 3,3];
const yMins = [-3,-4,-3,-3,-2,-3, -3,-3,-3,-3,-4,-4, -4,-3,-3,-3,-3,-3, -4,-3,-3,-4,-3,-3, -3,-3,-3,-3,-3,-4, -4,-4,-3,-3,-3,-4, -3,-3,-3,-4,-3,-3, -3,-3];
const panelCols = [0,1,2,3,4,5, 0,1,2,3,4,5, 0,1,2,3,4,5, 0,1,2,3,4,5, 0,1,2,3,4,5, 0,1,2,3,4,5, 0,1,2,3,4,5, 2,3];
const panelRows = [0,0,0,0,0,0, 1,1,1,1,1,1, 2,2,2,2,2,2, 3,3,3,3,3,3, 4,4,4,4,4,4, 5,5,5,5,5,5, 6,6,6,6,6,6, 7,7];

// ---- drawing ----
const NS = "http://www.w3.org/2000/svg";
const root = document.getElementById("panels");
const BOX_W = 1074, BOX_H = 179, COL0 = 106, COL_PITCH = 1249.6, ROW0 = 395.5, ROW_PITCH = 350;
const ORANGE = "#ff8000", BLUE = "#2a42ea";

function mk(tag, parent) {
  const el = document.createElementNS(NS, tag);
  parent.appendChild(el);
  return el;
}
function ln(parent, x1, y1, x2, y2, stroke, w) {
  const l = mk("line", parent);
  l.setAttribute("x1", x1); l.setAttribute("y1", y1);
  l.setAttribute("x2", x2); l.setAttribute("y2", y2);
  l.setAttribute("stroke", stroke); l.setAttribute("stroke-width", w);
  return l;
}

for (let i = 0; i < panelSeries.length; i++) {
  const vals = panelSeries[i];
  const y0year = startYears[i];
  const isShort = y0year >= 1970;
  const xmin = isShort ? 1978.46 : 1919.55;
  const xmax = isShort ? 2019.5 : 2019.35;
  const ymax = yMaxes[i], ymin = yMins[i];
  const bx = COL0 + COL_PITCH * panelCols[i];
  const by = ROW0 + ROW_PITCH * panelRows[i];
  const xs = v => bx + (v - xmin) / (xmax - xmin) * BOX_W;
  const ys = v => by + (ymax - v) / (ymax - ymin) * BOX_H;
  const slug = panelTitles[i].toLowerCase().replace(/[^a-z0-9]+/g, "-");

  const g = mk("g", root);
  
  

  const title = mk("text", g);
  title.setAttribute("x", bx + BOX_W / 2);
  title.setAttribute("y", by - 33);
  title.setAttribute("font-size", "38");
  title.setAttribute("text-anchor", "middle");
  title.textContent = panelTitles[i];
  
  

  const zy = ys(0);
  const defs = mk("defs", g);
  const cpPos = mk("clipPath", defs);
  cpPos.setAttribute("id", "cpp" + i);
  const rp = mk("rect", cpPos);
  rp.setAttribute("x", bx); rp.setAttribute("y", by);
  rp.setAttribute("width", BOX_W); rp.setAttribute("height", zy - by);
  const cpNeg = mk("clipPath", defs);
  cpNeg.setAttribute("id", "cpn" + i);
  const rn = mk("rect", cpNeg);
  rn.setAttribute("x", bx); rn.setAttribute("y", zy);
  rn.setAttribute("width", BOX_W); rn.setAttribute("height", by + BOX_H - zy);

  let d = "M" + xs(y0year).toFixed(2) + "," + zy.toFixed(2);
  for (let k = 0; k < vals.length; k++) {
    d += "L" + xs(y0year + k).toFixed(2) + "," + ys(vals[k]).toFixed(2);
  }
  d += "L" + xs(y0year + vals.length - 1).toFixed(2) + "," + zy.toFixed(2) + "Z";

  const pos = mk("path", g);
  pos.setAttribute("d", d);
  pos.setAttribute("fill", ORANGE);
  pos.setAttribute("clip-path", "url(#cpp" + i + ")");
  
  

  const neg = mk("path", g);
  neg.setAttribute("d", d);
  neg.setAttribute("fill", BLUE);
  neg.setAttribute("clip-path", "url(#cpn" + i + ")");
  
  

  const zl = ln(g, bx, zy, bx + BOX_W, zy, "#b4b4b4", 2.5);
  
  

  const axg = mk("g", g);
  
  
  ln(axg, bx - 21, by, bx + BOX_W + 21, by, "#111", 2.5);
  ln(axg, bx - 21, by + BOX_H, bx + BOX_W + 21, by + BOX_H, "#111", 2.5);
  ln(axg, bx, by, bx, by + BOX_H, "#555", 1.5);
  ln(axg, bx + BOX_W, by, bx + BOX_W, by + BOX_H, "#555", 1.5);

  for (let t = ymin; t <= ymax + 1e-9; t += 0.2) {
    const tv = Math.round(t * 10) / 10;
    const yy = ys(tv);
    const major = Math.abs(tv - Math.round(tv)) < 1e-6;
    const len = major ? 21 : 11;
    const col = major ? "#333" : "#9a9a9a";
    ln(axg, bx - len, yy, bx, yy, col, 2);
    ln(axg, bx + BOX_W, yy, bx + BOX_W + len, yy, col, 2);
    if (major) {
      const lab = mk("text", axg);
      lab.setAttribute("x", bx - 43);
      lab.setAttribute("y", yy + 10);
      lab.setAttribute("font-size", "28");
      lab.setAttribute("text-anchor", "end");
      lab.textContent = tv.toFixed(1);
      
      
    }
  }
  const majorStep = isShort ? 10 : 20;
  const minorStep = isShort ? 2 : 5;
  const firstTick = isShort ? 1980 : 1920;
  for (let yr = firstTick; yr <= xmax; yr += minorStep) {
    const xx = xs(yr);
    const major = (yr - firstTick) % majorStep === 0;
    const len = major ? 21 : 10;
    const col = major ? "#333" : "#9a9a9a";
    ln(axg, xx, by - len, xx, by, col, 2);
    ln(axg, xx, by + BOX_H, xx, by + BOX_H + len, col, 2);
    if (major) {
      const lab = mk("text", axg);
      lab.setAttribute("x", xx);
      lab.setAttribute("y", by + BOX_H + 64);
      lab.setAttribute("font-size", "31");
      lab.setAttribute("text-anchor", "middle");
      lab.textContent = String(yr);
      
      
    }
  }
}
</script>
</body>
</html>
